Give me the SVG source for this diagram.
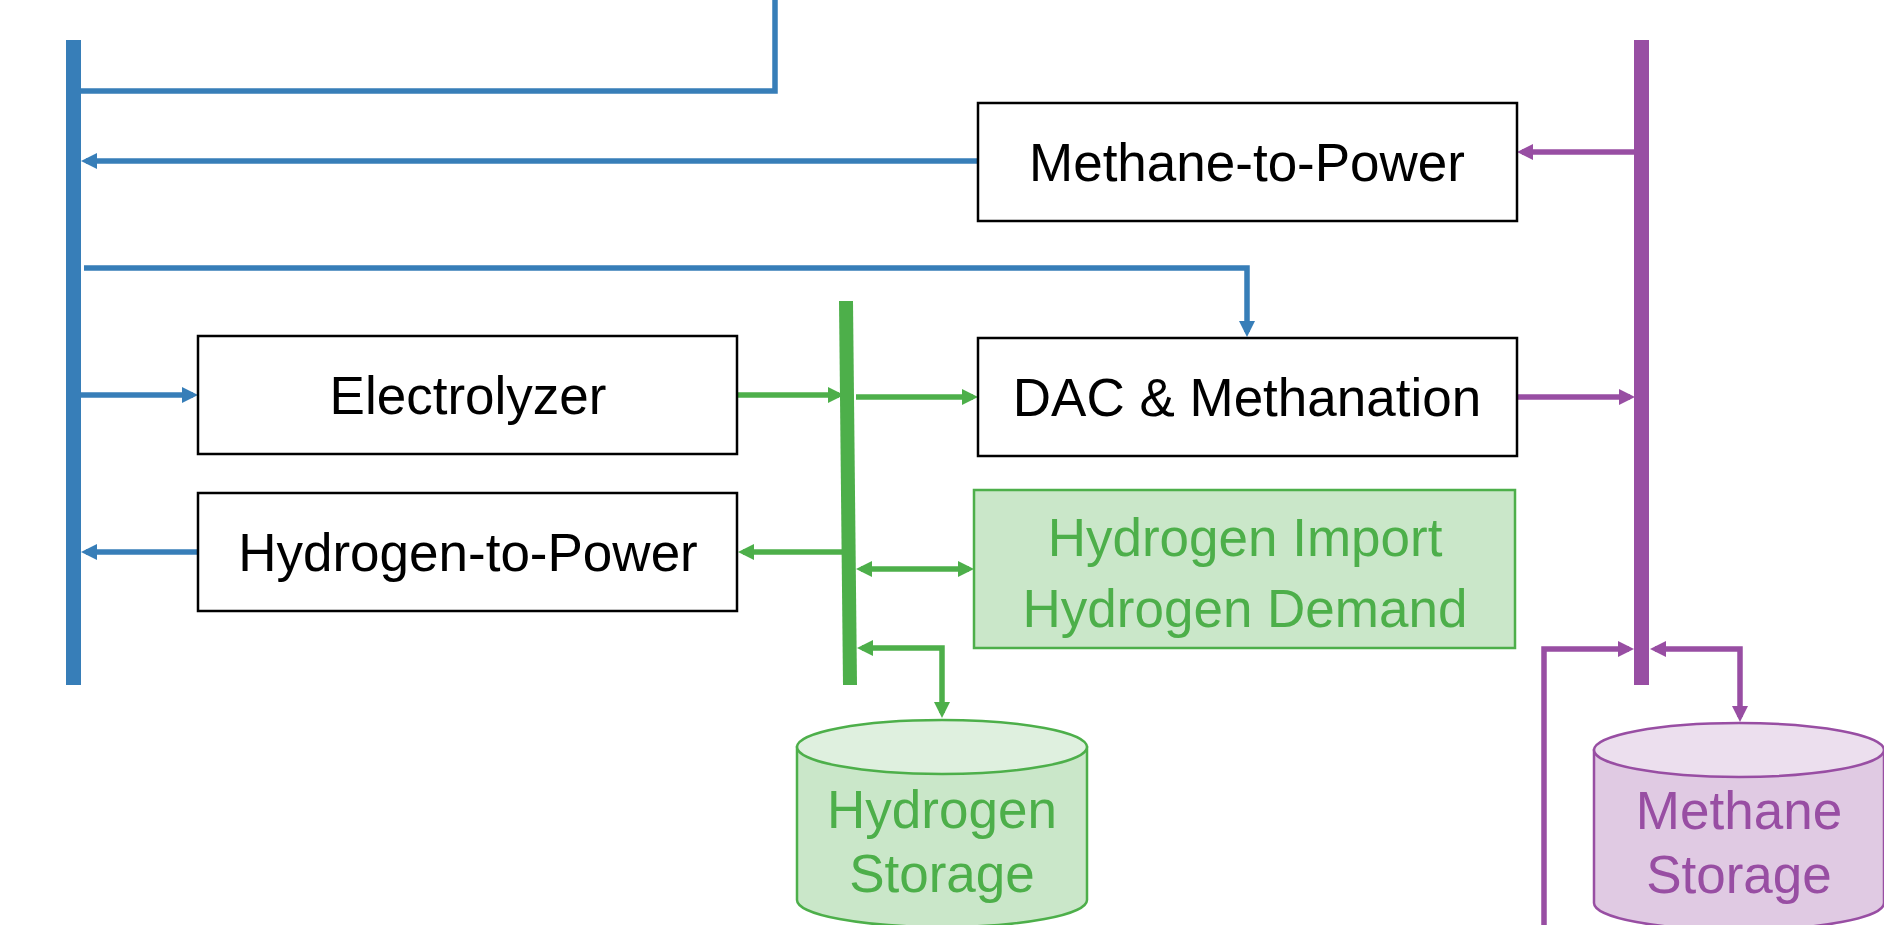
<svg xmlns="http://www.w3.org/2000/svg" width="1884" height="925" viewBox="0 0 1884 925">
<style>
.box{fill:#ffffff;stroke:#000000;stroke-width:2.5}
.lbl{font-family:"Liberation Sans",Arial,sans-serif;font-size:53px;text-anchor:middle}
.blk{fill:#000000}
.grn{fill:#4daf4a}
.pur{fill:#984ea3}
.cb{fill:none;stroke:#377eb8;stroke-width:5.5}
.cg{fill:none;stroke:#4daf4a;stroke-width:5.5}
.cp{fill:none;stroke:#984ea3;stroke-width:5.5}
</style>
<defs>
<marker id="ab" markerUnits="userSpaceOnUse" markerWidth="16" markerHeight="16" refX="11" refY="8" orient="auto-start-reverse"><path d="M0,0 L16,8 L0,16 Z" fill="#377eb8"/></marker>
<marker id="ag" markerUnits="userSpaceOnUse" markerWidth="16" markerHeight="16" refX="11" refY="8" orient="auto-start-reverse"><path d="M0,0 L16,8 L0,16 Z" fill="#4daf4a"/></marker>
<marker id="ap" markerUnits="userSpaceOnUse" markerWidth="16" markerHeight="16" refX="11" refY="8" orient="auto-start-reverse"><path d="M0,0 L16,8 L0,16 Z" fill="#984ea3"/></marker>
</defs>
<rect width="1884" height="925" fill="#ffffff"/>
<g id="connectors">
<path class="cb" d="M775,0 V91 H81"/>
<path class="cb" d="M978,161 H86" marker-end="url(#ab)"/>
<path class="cb" d="M84,268 H1247 V332" marker-end="url(#ab)"/>
<path class="cb" d="M81,395 H193" marker-end="url(#ab)"/>
<path class="cb" d="M198,552 H86" marker-end="url(#ab)"/>
<path class="cg" d="M738,395 H839" marker-end="url(#ag)"/>
<path class="cg" d="M856,397 H973" marker-end="url(#ag)"/>
<path class="cg" d="M843,552 H743" marker-end="url(#ag)"/>
<path class="cg" d="M861,569 H969" marker-start="url(#ag)" marker-end="url(#ag)"/>
<path class="cg" d="M862,648 H942 V713" marker-start="url(#ag)" marker-end="url(#ag)"/>
<path class="cp" d="M1634,152 H1522" marker-end="url(#ap)"/>
<path class="cp" d="M1517,397 H1630" marker-end="url(#ap)"/>
<path class="cp" d="M1544,925 V649 H1629" marker-end="url(#ap)"/>
<path class="cp" d="M1655,649 H1740 V717" marker-start="url(#ap)" marker-end="url(#ap)"/>
</g>
<g id="electricity-bus"><rect x="66" y="40" width="15" height="645" fill="#377eb8"/></g>
<g id="hydrogen-bus"><polygon points="839,301 853,301 857,685 843,685" fill="#4daf4a"/></g>
<g id="methane-bus"><rect x="1634" y="40" width="15" height="645" fill="#984ea3"/></g>
<g id="methane-to-power">
<rect class="box" x="978" y="103" width="539" height="118"/>
<text class="lbl blk" x="1247" y="181">Methane-to-Power</text>
</g>
<g id="electrolyzer">
<rect class="box" x="198" y="336" width="539" height="118"/>
<text class="lbl blk" x="468" y="414">Electrolyzer</text>
</g>
<g id="dac-methanation">
<rect class="box" x="978" y="338" width="539" height="118"/>
<text class="lbl blk" x="1247" y="416">DAC &amp; Methanation</text>
</g>
<g id="hydrogen-to-power">
<rect class="box" x="198" y="493" width="539" height="118"/>
<text class="lbl blk" x="468" y="571">Hydrogen-to-Power</text>
</g>
<g id="hydrogen-import-demand">
<rect x="974" y="490" width="541" height="158" fill="#cae7c9" stroke="#4daf4a" stroke-width="2.5"/>
<text class="lbl grn" x="1245" y="556">Hydrogen Import</text>
<text class="lbl grn" x="1245" y="627">Hydrogen Demand</text>
</g>
<g id="hydrogen-storage">
<path d="M797,747 V900 A145,27 0 0 0 1087,900 V747 Z" fill="#cae7c9" stroke="#4daf4a" stroke-width="2.5"/>
<ellipse cx="942" cy="747" rx="145" ry="27" fill="#dff0df" stroke="#4daf4a" stroke-width="2.5"/>
<text class="lbl grn" x="942" y="828">Hydrogen</text>
<text class="lbl grn" x="942" y="892">Storage</text>
</g>
<g id="methane-storage">
<path d="M1594,750 V903 A145,27 0 0 0 1884,903 V750 Z" fill="#e0cae3" stroke="#984ea3" stroke-width="2.5"/>
<ellipse cx="1739" cy="750" rx="145" ry="27" fill="#ecdfee" stroke="#984ea3" stroke-width="2.5"/>
<text class="lbl pur" x="1739" y="829">Methane</text>
<text class="lbl pur" x="1739" y="893">Storage</text>
</g>
</svg>
